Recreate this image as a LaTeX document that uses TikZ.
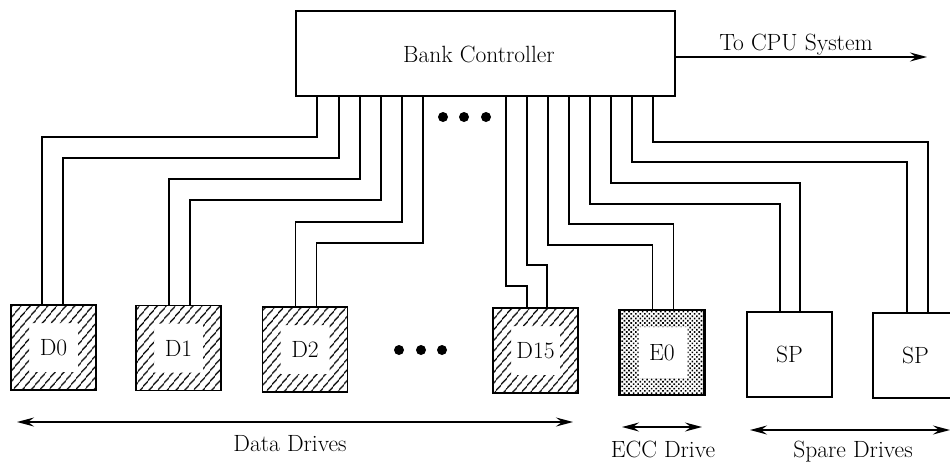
\documentclass[tikz,border=0pt]{standalone}
\usepackage{fontspec}
\setmainfont{Latin Modern Roman}
\usetikzlibrary{calc,arrows.meta,patterns.meta}
\begin{document}
\begin{tikzpicture}[x=1pt,y=-1pt,
  font=\fontsize{23.5}{28}\selectfont,
  wire/.style={line width=1.6pt},
  box/.style={draw, line width=1.8pt, minimum width=85pt, minimum height=85pt,
    inner sep=0pt, outer sep=0pt},
  datadrive/.style={box, path picture={
    \fill[pattern={Lines[angle=50,distance=6.5pt,line width=1.4pt]}, even odd rule]
      (path picture bounding box.south west) rectangle (path picture bounding box.north east)
      ([shift={(18pt,18pt)}]path picture bounding box.south west) rectangle
      ([shift={(-18pt,-18pt)}]path picture bounding box.north east);}},
  eccdrive/.style={box, line width=2.4pt, path picture={
    \fill[pattern={Dots[angle=45,distance=3.2pt,radius=1.15pt]}, even odd rule]
      (path picture bounding box.south west) rectangle (path picture bounding box.north east)
      ([shift={(19pt,17pt)}]path picture bounding box.south west) rectangle
      ([shift={(-17pt,-17pt)}]path picture bounding box.north east);}},
  tip/.tip={Stealth[length=17pt,width=9pt,inset=6pt]},
  span/.style={line width=1.4pt, tip-tip},
  oneway/.style={line width=1.6pt, -tip},
  lbl/.style={anchor=base, inner sep=0pt},
]
\clip (0,0) rectangle (950,461);

% controller
\node[box, minimum width=379pt, minimum height=85pt] (ctrl) at (485.5,53.5) {};
\node[lbl] (ctrllbl) at (479,62) {Bank Controller};

% drives
\node[datadrive] (d0)  at (53.5,347.5) {D0};
\node[datadrive] (d1)  at (178.5,348)  {D1};
\node[datadrive] (d2)  at (305,349.5)  {D2};
\node[datadrive] (d15) at (535.5,350.5) {D15};
\node[eccdrive]  (e0)  at (662,352.5)  {E0};
\node[box]       (sp1) at (789.5,354.5) {SP};
\node[box]       (sp2) at (915.5,355.5) {SP};

% drive cables: offset on controller / drop / target / offset on drive
\foreach \dx/\dy/\n/\tx in {21/41/d0/31, 43/62/d0/52, 64/83/d1/33, 85/104/d1/54,
    106/126/d2/33, 127/147/d2/54,
    210/190/d15/34, 231/169/d15/54, 252/149/e0/33, 273/128/e0/54,
    294/108/sp1/33, 315/87/sp1/53, 336/66/sp2/34, 357/46/sp2/55}
  \draw[wire] ($(ctrl.south west)+(\dx,0)$) -- ++(0,\dy) -| ($(\n.north west)+(\tx,0)$);

% ellipses
\foreach \x in {443,464,486} \fill (\x,117) circle (5);
\foreach \x in {399,421,442} \fill (\x,350) circle (5);

% host link
\coordinate (cpu) at (927,57);
\draw[oneway] ([yshift=-3.5pt]ctrl.east) -- (cpu);
\node[lbl] (cpulbl) at (796,50) {To CPU System};

% group spans
\coordinate (dl) at (17,422);  \coordinate (dr) at (573,422);
\coordinate (el) at (622,427); \coordinate (er) at (702,427);
\coordinate (sl) at (750,430); \coordinate (sr) at (950,430);
\draw[span] (dl) -- (dr);
\draw[span] (el) -- (er);
\draw[span] (sl) -- (sr);
\node[lbl] (dlbl) at (290,451) {Data Drives};
\node[lbl] (elbl) at (663,457) {ECC Drive};
\node[lbl] (slbl) at (853,457) {Spare Drives};
\end{tikzpicture}
\end{document}
